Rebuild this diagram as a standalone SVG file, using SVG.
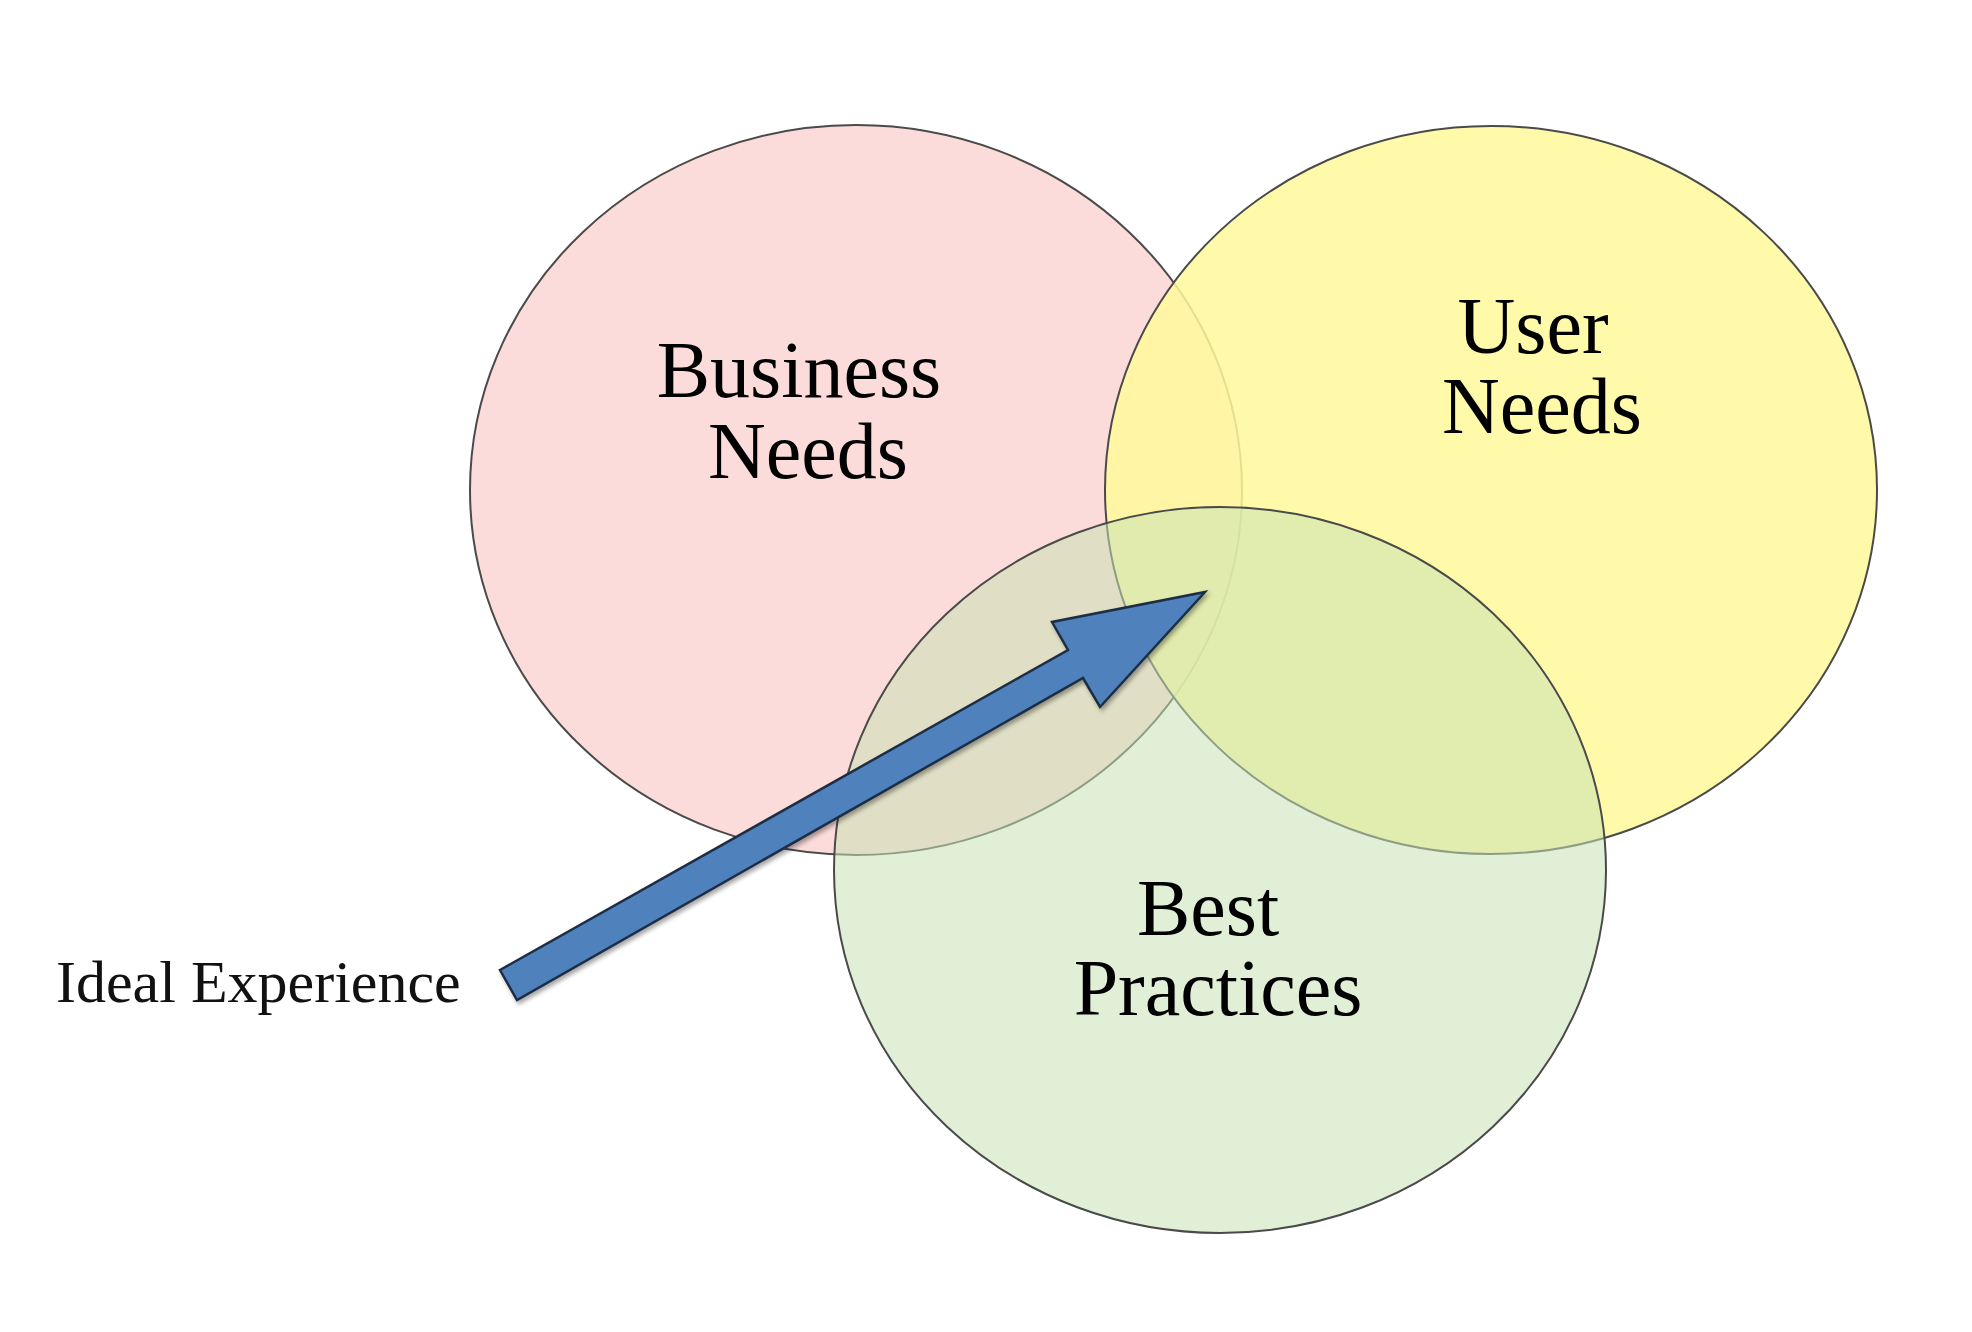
<svg xmlns="http://www.w3.org/2000/svg" width="1972" height="1332" viewBox="0 0 1972 1332">
<style>
.lbl{font-family:"Liberation Serif","Times New Roman",serif;font-size:80px;fill:#000;text-anchor:middle}
.side{font-family:"Liberation Serif","Times New Roman",serif;font-size:60px;fill:#111}
.ring{stroke:#4a4a4a;stroke-width:2}
</style>
<defs>
<filter id="sh" x="-10%" y="-10%" width="130%" height="130%">
<feDropShadow dx="2" dy="3" stdDeviation="2" flood-color="#000" flood-opacity="0.35"/>
</filter>
</defs>
<rect width="1972" height="1332" fill="#fff"/>
<g id="business">
<ellipse class="ring" cx="856" cy="490" rx="386" ry="365" fill="#fcdcdb"/>
</g>
<g id="user">
<ellipse class="ring" cx="1491" cy="490" rx="386" ry="364" fill="#fff99a" fill-opacity="0.85"/>
</g>
<g id="best">
<ellipse class="ring" cx="1220" cy="870" rx="386" ry="363" fill="#c8e1b4" fill-opacity="0.55"/>
</g>
<g id="labels">
<text class="lbl" x="799" y="397">Business</text>
<text class="lbl" x="808" y="478">Needs</text>
<text class="lbl" x="1533" y="353">User</text>
<text class="lbl" x="1542" y="433">Needs</text>
<text class="lbl" x="1208" y="935">Best</text>
<text class="lbl" x="1218" y="1015">Practices</text>
</g>
<g id="connectors">
<polygon points="500,970 1068,650 1052,622 1205,592 1100,707 1083,678 517,1000" fill="#4f81bd" stroke="#1e2d44" stroke-width="2.5" stroke-linejoin="miter" filter="url(#sh)"/>
</g>
<g id="ideal">
<text class="side" x="56" y="1002">Ideal Experience</text>
</g>
</svg>
